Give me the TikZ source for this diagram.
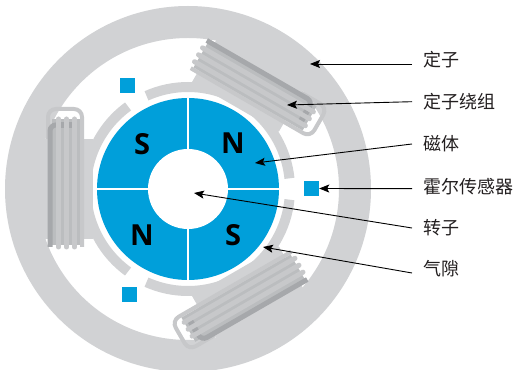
\documentclass[tikz,border=0pt]{standalone}
\usepackage{fontspec}
\usepackage{tikz}
\usetikzlibrary{arrows.meta, positioning, calc}
\newfontfamily\cjkfont{Noto Sans CJK SC}
\newfontfamily\polefont{Open Sans}
\definecolor{statorgray}{HTML}{D1D2D4}
\definecolor{coilwire}{HTML}{C7C8CA}
\definecolor{coilback}{HTML}{BBBDBF}
\definecolor{coildark}{HTML}{A6A8AB}
\definecolor{rotorblue}{RGB}{0,159,218}
\definecolor{labeltext}{HTML}{231F20}

% one winding, drawn along the tooth at angle 0 (x radial, y tangential)
\newcommand{\winding}{%
  \fill[coilback] (108,-70) rectangle (136,56);
  \draw[coilwire, line width=4pt, rounded corners=8pt] (106,58) -- (106,-80) -- (140,-80) -- (140,-50);
  \draw[coildark, line width=5pt, rounded corners=6pt] (138,58) -- (138,-64) -- (126,-64);
  \foreach \r in {113.5,121.5,129.5}
    \draw[coilwire, line width=5pt, line cap=round] (\r,-70) -- (\r,58);
  \foreach \r in {117.5,125.5}
    \fill[coildark] (\r-1.5,-67) rectangle (\r+1.5,-61);
}

\begin{document}
\begin{tikzpicture}[x=1pt, y=1pt,
        shoe/.style={draw=statorgray, line width=10pt},
        pole/.style={font=\polefont\bfseries\fontsize{29}{29}\selectfont, text=black},
        hall/.style={fill=rotorblue, minimum size=15pt, inner sep=0pt},
        lbl/.style={anchor=west, inner sep=0pt, text=labeltext, font=\cjkfont\fontsize{18}{18}\selectfont},
        pointer/.style={draw=black, line width=0.9pt, -{Stealth[length=10pt, width=8pt, inset=2pt]}}]
    \useasboundingbox (0,0) rectangle (516,369);
    \fill[white] (0,0) rectangle (516,369);

    \begin{scope}[shift={(188,180)}]
        % stator ring and teeth
        \fill[statorgray, even odd rule] (0,0) circle[radius=183] (0,0) circle[radius=151];
        \foreach \a in {60,180,300} {
            \begin{scope}[rotate=\a]
                \fill[statorgray] (95,-50) rectangle (158,50);
            \end{scope}
        }
        % pole shoes
        \draw[shoe] (6:102) arc[start angle=6, end angle=114, radius=102];
        \draw[shoe] (126:102) arc[start angle=126, end angle=234, radius=102];
        \draw[shoe] (246:102) arc[start angle=246, end angle=354, radius=102];
        % windings
        \foreach \a in {60,180,300} {
            \begin{scope}[rotate=\a]
                \winding
            \end{scope}
        }
        % rotor
        \fill[rotorblue] (0,0) circle[radius=91];
        \draw[white, line width=1.5pt] (-91,0) -- (91,0) (0,-91) -- (0,91);
        \fill[white] (0,0) circle[radius=40];
        \node[pole] (s1) at (-46,45) {S};
        \node[pole] (n1) at (45,46) {N};
        \node[pole] (n2) at (-46,-46) {N};
        \node[pole] (s2) at (45,-46) {S};
        % hall sensors
        \node[hall] (hallT) at (-60.5,103.5) {};
        \node[hall] (hallR) at (123.5,0.5) {};
        \node[hall] (hallB) at (-58.5,-105.5) {};
        % arrow tips
        \coordinate (pstator) at (122,125);
        \coordinate (pwinding) at (99,84);
        \coordinate (pmagnet) at (67,26);
        \coordinate (protor) at (6,-4);
        \coordinate (pgap) at (75,-58);
    \end{scope}

    \node[lbl] (lstator) at (423,309) {定子};
    \node[lbl] (lwinding) at (423,267.3) {定子绕组};
    \node[lbl] (lmagnet) at (423,225) {磁体};
    \node[lbl] (lhall) at (423,182.3) {霍尔传感器};
    \node[lbl] (lrotor) at (423,141) {转子};
    \node[lbl] (lgap) at (423,100) {气隙};

    \draw[pointer] ([xshift=-11pt, yshift=-4pt]lstator.west) -- (pstator);
    \draw[pointer] ([xshift=-11pt]lwinding.west) -- (pwinding);
    \draw[pointer] ([xshift=-11pt]lmagnet.west) -- (pmagnet);
    \draw[pointer] ([xshift=-11pt, yshift=-2pt]lhall.west) -- (hallR.east);
    \draw[pointer] ([xshift=-11pt]lrotor.west) -- (protor);
    \draw[pointer] ([xshift=-11pt, yshift=-4pt]lgap.west) -- (pgap);
\end{tikzpicture}
\end{document}
